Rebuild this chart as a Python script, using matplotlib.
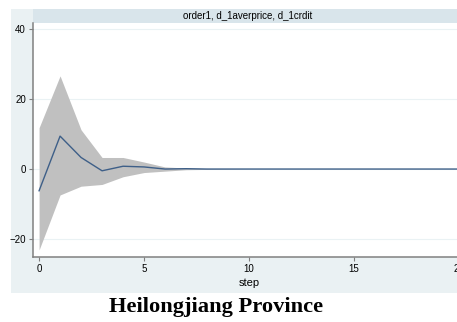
import numpy as np
import matplotlib.pyplot as plt
from matplotlib.patches import Rectangle

# impulse response, order1: d_1averprice -> d_1crdit
step = np.arange(0, 21)
irf = [-6.2, 9.4, 3.3, -0.5, 0.8, 0.6, 0.0, 0.1, 0.0, 0.0, 0.0,
       0.0, 0.0, 0.0, 0.0, 0.0, 0.0, 0.0, 0.0, 0.0, 0.0]
upper = [11.8, 26.6, 11.2, 3.3, 3.3, 2.0, 0.6, 0.3, 0.1, 0.05, 0.0,
         0.0, 0.0, 0.0, 0.0, 0.0, 0.0, 0.0, 0.0, 0.0, 0.0]
lower = [-23.1, -7.4, -4.9, -4.4, -2.2, -1.0, -0.6, -0.2, -0.1, -0.05, 0.0,
         0.0, 0.0, 0.0, 0.0, 0.0, 0.0, 0.0, 0.0, 0.0, 0.0]
yticks = [-20, 0, 20, 40]
xticks = [0, 5, 10, 15, 20]
panel_title = "order1, d_1averprice, d_1crdit"

plt.rcParams['font.family'] = ['Liberation Sans', 'DejaVu Sans']
plt.rcParams['font.stretch'] = 'normal'

W, H = 457, 322
fig = plt.figure(figsize=(W / 100, H / 100), dpi=100)
fig.patch.set_facecolor('white')

# stata-style graph region and title strip
fig.patches.append(Rectangle((11 / W, 1 - 293 / H), 1, (293 - 9) / H,
                             transform=fig.transFigure, facecolor='#eaf1f3',
                             edgecolor='none', zorder=-2))
fig.patches.append(Rectangle((33 / W, 1 - 23 / H), 1, 14 / H,
                             transform=fig.transFigure, facecolor='#d9e5eb',
                             edgecolor='none', zorder=-1))

ax = fig.add_axes([33 / W, 1 - 257.3 / H, (465 - 33) / W, (257.3 - 23) / H])
ax.set_zorder(1)
ax.set_facecolor('white')

ax.fill_between(step, lower, upper, color='#c0c0c0', linewidth=0, zorder=1)
ax.plot(step, irf, color='#3e5f88', linewidth=1.0, zorder=2)

ax.set_xlim(-0.29, 20.29)
ax.set_ylim(-25.2, 41.7)
ax.set_xticks(xticks)
ax.set_yticks(yticks)
for y in yticks:
    ax.axhline(y, color='#eaf2f4', linewidth=0.8, zorder=0)

for s in ['top', 'right']:
    ax.spines[s].set_visible(False)
for s in ['left', 'bottom']:
    ax.spines[s].set_color('#808080')
    ax.spines[s].set_linewidth(1.1)

ax.tick_params(axis='both', direction='out', length=3, width=0.8,
               color='#808080', labelsize=7, pad=2)
ax.set_xlabel('step', fontsize=8, labelpad=3)

fig.text(248 / W, 1 - 16 / H, panel_title, fontsize=7,
         ha='center', va='center', zorder=3)

fig.text(216 / W, 1 - 307 / H, 'Heilongjiang Province',
         fontsize=16.2, fontweight='bold', family='Liberation Serif',
         ha='center', va='center')

fig.savefig('out.png', dpi=100)
